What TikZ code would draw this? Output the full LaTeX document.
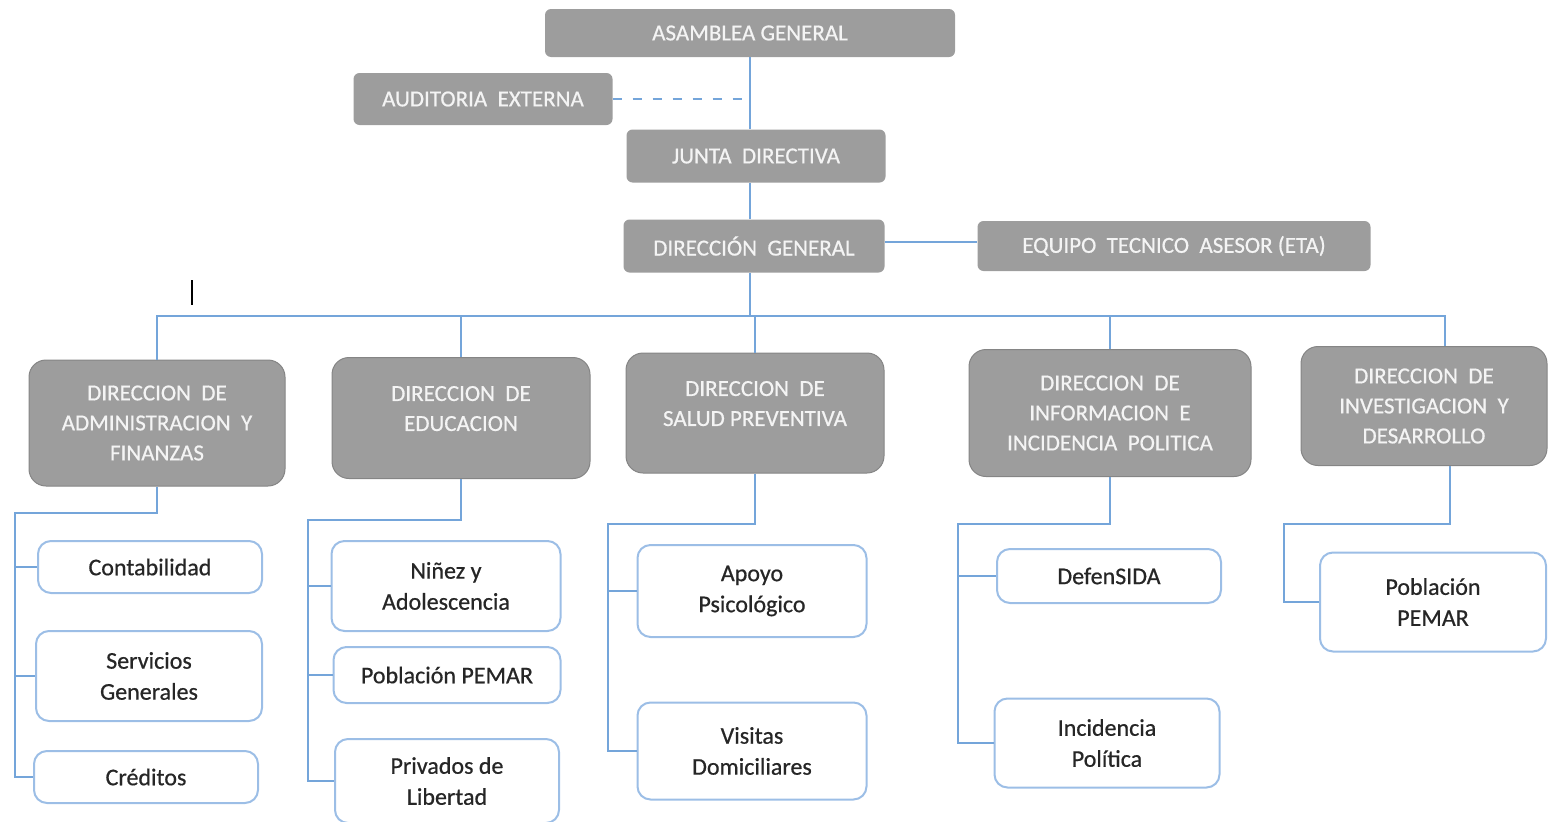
\documentclass[tikz,border=0pt]{standalone}
\usepackage{fontspec}
\setmainfont{Carlito}
\newfontfamily\orgfont{Carlito}[FakeBold=0.6]
\usepackage{tikz}

\definecolor{boxgray}{HTML}{9D9D9D}
\definecolor{boxedge}{HTML}{858585}
\definecolor{capstext}{HTML}{F4F4F4}
\definecolor{lineblue}{HTML}{74A5DA}
\definecolor{subedge}{HTML}{9CBEE6}
\definecolor{subtext}{HTML}{262626}

\tikzset{
	topbox/.style={fill=boxgray, rounded corners=6pt, text=capstext, inner sep=0pt,
		align=center, font=\orgfont\fontsize{23}{30}\selectfont},
	dirbox/.style={topbox, draw=boxedge, line width=1pt, rounded corners=17pt},
	subbox/.style={draw=subedge, line width=2pt, fill=white, rounded corners=13pt,
		text=subtext, inner sep=0pt, align=center, font=\orgfont\fontsize{24}{31}\selectfont},
	link/.style={draw=lineblue, line width=1.8pt},
}

\begin{document}
\begin{tikzpicture}[x=1pt,y=-1pt]
	\useasboundingbox (0,0) rectangle (1548,822);
	% upper levels
	\node[topbox, minimum width=410, minimum height=48] (asam) at (750,33) {ASAMBLEA GENERAL};
	\node[topbox, minimum width=259, minimum height=52] (audit) at (483,99) {AUDITORIA~ EXTERNA};
	\node[topbox, minimum width=259, minimum height=53] (junta) at (756,156) {JUNTA~ DIRECTIVA};
	\node[topbox, minimum width=261, minimum height=53] (dirg) at (754,246) {DIRECCIÓN~ GENERAL};
	\node[topbox, minimum width=393, minimum height=50] (eta) at (1174,246) {EQUIPO~ TECNICO~ ASESOR (ETA)};
	\draw[link] (asam.south) -- (asam.south |- junta.north);
	\draw[link] (junta.south -| asam.south) -- (dirg.north -| asam.south);
	\draw[link, dash pattern=on 9pt off 11pt] (audit.east) -- (audit.east -| asam.south);
	\draw[link] ([yshift=4pt]dirg.east) -- ([yshift=4pt]dirg.east -| eta.west);
	\draw[black, line width=1.5pt] (192,280) -- (192,305);
	% direcciones
	\node[dirbox, minimum width=256, minimum height=126] (d1) at (157,423)
		{DIRECCION~ DE\\ADMINISTRACION~ Y\\FINANZAS};
	\node[dirbox, minimum width=258, minimum height=121, text depth=19pt] (d2) at (461,418)
		{DIRECCION~ DE\\EDUCACION};
	\node[dirbox, minimum width=258, minimum height=120, text depth=19pt] (d3) at (755,413)
		{DIRECCION~ DE\\SALUD PREVENTIVA};
	\node[dirbox, minimum width=282, minimum height=127] (d4) at (1110,413)
		{DIRECCION~ DE\\INFORMACION~ E\\INCIDENCIA~ POLITICA};
	\node[dirbox, minimum width=246, minimum height=119] (d5) at (1424,406)
		{DIRECCION~ DE\\INVESTIGACION~ Y\\DESARROLLO};
	\coordinate (bus) at (750,316);
	\draw[link] (dirg.south -| bus) -- (bus);
	\draw[link] (d1.north) -- (d1.north |- bus) -- ([xshift=21pt]d5.north |- bus) -- ([xshift=21pt]d5.north);
	\foreach \d in {d2,d3,d4}
		\draw[link] (\d.north |- bus) -- (\d.north);
	% administracion y finanzas
	\node[subbox, minimum width=224, minimum height=52] (cont) at (150,567) {Contabilidad};
	\node[subbox, minimum width=226, minimum height=90] (serv) at (149,676) {Servicios\\Generales};
	\node[subbox, minimum width=224, minimum height=52] (cred) at (146,777) {Créditos};
	\coordinate (a0) at (15,513);
	\draw[link] (d1.south) |- (a0) -- (a0 |- cred.west) -- (cred.west);
	\foreach \s in {cont,serv}
		\draw[link] (a0 |- \s.west) -- (\s.west);
	% educacion
	\node[subbox, minimum width=229, minimum height=90] (ninez) at (446,586) {Niñez y\\Adolescencia};
	\node[subbox, minimum width=227, minimum height=56] (pob1) at (447,675) {Población PEMAR};
	\node[subbox, minimum width=224, minimum height=84] (priv) at (447,781) {Privados de\\Libertad};
	\coordinate (b0) at (308,520);
	\draw[link] (d2.south) |- (b0) -- (b0 |- priv.west) -- (priv.west);
	\foreach \s in {ninez,pob1}
		\draw[link] (b0 |- \s.west) -- (\s.west);
	% salud preventiva
	\node[subbox, minimum width=229, minimum height=92] (apoyo) at (752,591) {Apoyo\\Psicológico};
	\node[subbox, minimum width=229, minimum height=97] (visit) at (752,751) {Visitas\\Domiciliares};
	\coordinate (c0) at (608,524);
	\draw[link] (d3.south) |- (c0) -- (c0 |- visit.west) -- (visit.west);
	\draw[link] (c0 |- apoyo.west) -- (apoyo.west);
	% informacion e incidencia
	\node[subbox, minimum width=224, minimum height=54] (defen) at (1109,576) {DefenSIDA};
	\node[subbox, minimum width=225, minimum height=89] (incid) at (1107,743) {Incidencia\\Política};
	\coordinate (e0) at (958,524);
	\draw[link] (d4.south) |- (e0) -- (e0 |- incid.west) -- (incid.west);
	\draw[link] (e0 |- defen.west) -- (defen.west);
	% investigacion y desarrollo
	\node[subbox, minimum width=226, minimum height=99] (pob2) at (1433,602) {Población\\PEMAR};
	\coordinate (f0) at (1284,524);
	\draw[link] ([xshift=26pt]d5.south) |- (f0) -- (f0 |- pob2.west) -- (pob2.west);
\end{tikzpicture}
\end{document}
